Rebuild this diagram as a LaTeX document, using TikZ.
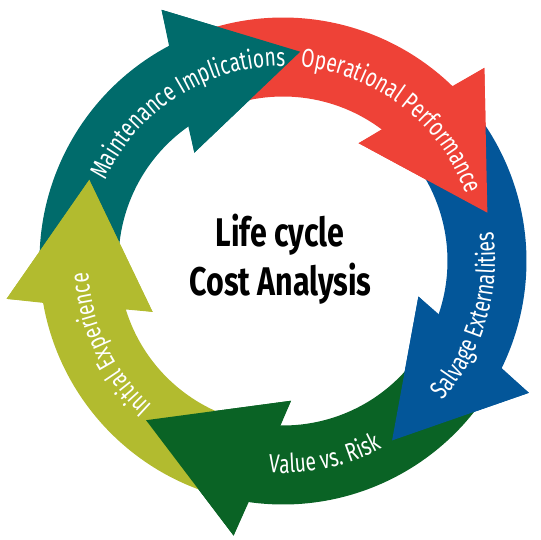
\documentclass[tikz,border=0pt]{standalone}
\usepackage{fontspec}
\usetikzlibrary{decorations.text}
\newfontfamily\bandfont[FakeStretch=0.74]{Fira Sans}
\newfontfamily\titlefont[FakeStretch=0.76]{Fira Sans}
\newcommand\bandtext{\bandfont\fontsize{26pt}{30pt}\selectfont\color{white}}
\definecolor{cteal}{HTML}{006B6B}
\definecolor{cred}{HTML}{EE4237}
\definecolor{cblue}{HTML}{035699}
\definecolor{cgreen}{HTML}{0A6325}
\definecolor{colive}{HTML}{B2BB2F}
\tikzset{
  titletext/.style={font=\titlefont\bfseries\fontsize{40pt}{48pt}\selectfont, text=black, anchor=base, inner sep=0pt},
  cwlabel/.style={decorate, decoration={text along path, text align=center, text={|\bandtext|#1}}},
}
\begin{document}
\begin{tikzpicture}[x=1pt,y=1pt]
\useasboundingbox (-283,-279) rectangle (257,261);
% arrow bodies
\foreach \a/\c in {85.3/cteal,13.3/cred,-58.7/cblue,-130.7/cgreen,157.3/colive}{
  \fill[\c] ({\a+100}:243.5) arc[start angle={\a+100}, end angle={\a+32.6}, radius=243.5]
    -- ({\a+30.5}:279) -- (\a:210) -- ({\a+44}:140) -- ({\a+39.5}:164.5)
    arc[start angle={\a+39.5}, end angle={\a+100}, radius=164.5] -- cycle;
}
% arrow heads on top
\foreach \a/\c in {85.3/cteal,13.3/cred,-58.7/cblue,-130.7/cgreen,157.3/colive}{
  \fill[\c] ({\a+30.5}:279) -- (\a:210) -- ({\a+44}:140) -- cycle;
}
% labels along the arcs
\path[cwlabel={Maintenance Implications}] (167.5:195) arc[start angle=167.5, end angle=77.5, radius=195];
\path[cwlabel={Operational Performance}] (97.4:195) arc[start angle=97.4, end angle=7.4, radius=195];
\path[cwlabel={Initial Experience}] (250.7:195) arc[start angle=250.7, end angle=160.7, radius=195];
\path[cwlabel={Salvage Externalities}] (-61.6:212) arc[start angle=-61.6, end angle=28.4, radius=212];
\path[cwlabel={Value vs. Risk}] (-123:212) arc[start angle=-123, end angle=-33, radius=212];
% title
\node[titletext] (t1) at (-3,14.5) {Life cycle};
\node[titletext] (t2) at (-2.5,-35) {Cost Analysis};
\end{tikzpicture}
\end{document}
